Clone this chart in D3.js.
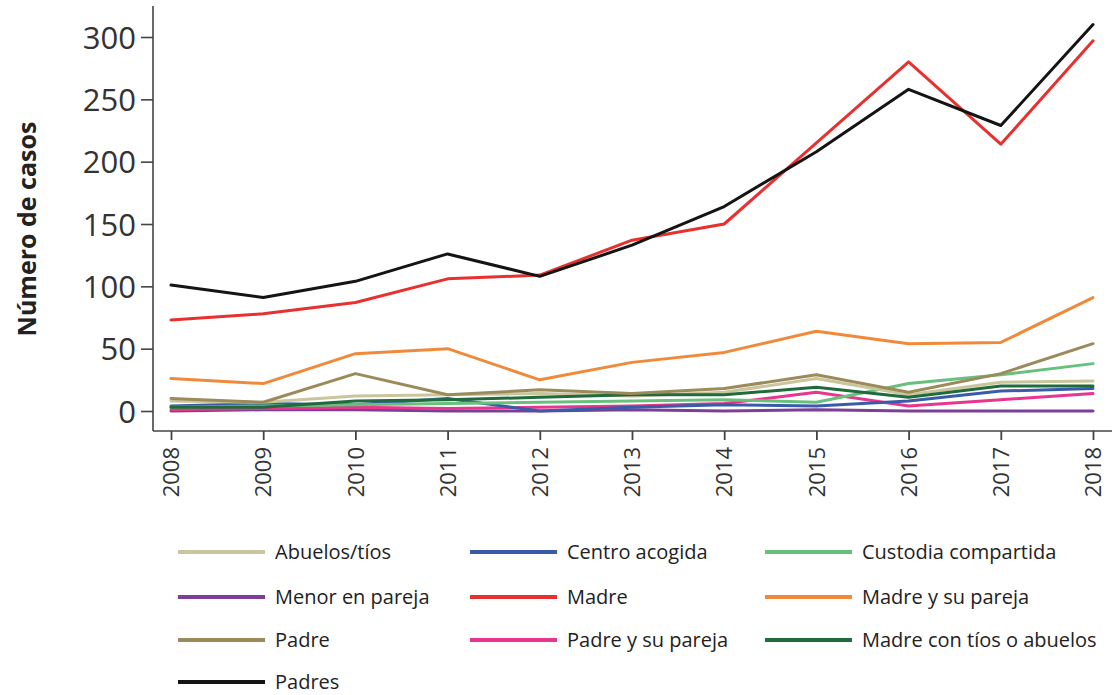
<!DOCTYPE html>
<html>
<head>
<meta charset="utf-8">
<script src="https://cdn.jsdelivr.net/npm/d3@7"></script>
<style>
  body { margin: 0; background: #fff; }
  svg text { font-family: "Open Sans", "DejaVu Sans", sans-serif; fill: #222; }
</style>
</head>
<body>
<div id="chart"></div>
<script>
// data
var years = [2008, 2009, 2010, 2011, 2012, 2013, 2014, 2015, 2016, 2017, 2018];
var yTicks = [0, 50, 100, 150, 200, 250, 300];

var abuelosTios     = [8, 7, 12, 13, 14, 12, 15, 26, 13, 23, 24];
var centroAcogida   = [4, 6, 5, 10, 0, 3, 5, 4, 8, 16, 18];
var custodia        = [3, 4, 5, 6, 7, 8, 9, 7, 22, 29, 38];
var menorPareja     = [0, 1, 1, 0, 0, 1, 0, 1, 0, 0, 0];
var madre           = [73, 78, 87, 106, 109, 137, 150, 215, 280, 214, 297];
var madrePareja     = [26, 22, 46, 50, 25, 39, 47, 64, 54, 55, 91];
var padre           = [10, 7, 30, 13, 17, 14, 18, 29, 15, 30, 54];
var padrePareja     = [1, 2, 3, 2, 3, 4, 6, 15, 4, 9, 14];
var madreTiosAbuelos = [3, 3, 8, 9, 11, 13, 13, 19, 11, 20, 20];
var padres          = [101, 91, 104, 126, 108, 133, 164, 208, 258, 229, 310];

var series = [
  {name: "Abuelos/tíos", values: abuelosTios, color: "#c9c59c"},
  {name: "Centro acogida", values: centroAcogida, color: "#3a5ca8"},
  {name: "Custodia compartida", values: custodia, color: "#68c07c"},
  {name: "Menor en pareja", values: menorPareja, color: "#7b3f98"},
  {name: "Madre", values: madre, color: "#e8302e"},
  {name: "Madre y su pareja", values: madrePareja, color: "#f08a3a"},
  {name: "Padre", values: padre, color: "#9b8b5b"},
  {name: "Padre y su pareja", values: padrePareja, color: "#e8358d"},
  {name: "Madre con tíos o abuelos", values: madreTiosAbuelos, color: "#1f6b3c"},
  {name: "Padres", values: padres, color: "#141414"}
];

// drawing order (bottom to top)
var drawOrder = ["Menor en pareja", "Padre y su pareja", "Centro acogida", "Custodia compartida",
  "Abuelos/tíos", "Madre con tíos o abuelos", "Padre", "Madre y su pareja", "Madre", "Padres"];

var width = 1120, height = 695;

var svg = d3.select("#chart").append("svg")
  .attr("width", width)
  .attr("height", height);

var x = d3.scaleLinear().domain([2008, 2018]).range([171, 1093]);
var y = d3.scaleLinear().domain([0, 300]).range([411, 37]);

var axisLeftX = 153, axisBottomY = 431;

// y axis
var yAxis = svg.append("g")
  .attr("transform", "translate(" + axisLeftX + ",0)")
  .call(d3.axisLeft(y).tickValues(yTicks).tickSize(12).tickPadding(5));
yAxis.select(".domain").attr("d", "M0,6V" + axisBottomY);
yAxis.selectAll("line").attr("stroke", "#444").attr("stroke-width", 1.6);
yAxis.select(".domain").attr("stroke", "#444").attr("stroke-width", 1.6);
yAxis.selectAll("text")
  .style("font-size", "31px")
  .style("fill", "#333")
  .attr("dy", "0.36em");

// x axis
var xAxis = svg.append("g")
  .attr("transform", "translate(0," + axisBottomY + ")")
  .call(d3.axisBottom(x).tickValues(years).tickFormat(d3.format("d")).tickSize(9));
xAxis.select(".domain").attr("d", "M" + axisLeftX + ",0H1112");
xAxis.selectAll("line").attr("stroke", "#444").attr("stroke-width", 1.8);
xAxis.select(".domain").attr("stroke", "#444").attr("stroke-width", 1.6);
xAxis.selectAll("text")
  .style("font-size", "22px")
  .style("fill", "#333")
  .attr("transform", "rotate(-90)")
  .attr("text-anchor", "end")
  .attr("x", -16)
  .attr("y", 0)
  .attr("dy", "0.35em");

// y title
svg.append("text")
  .attr("transform", "translate(36,229) rotate(-90)")
  .attr("text-anchor", "middle")
  .style("font-size", "25px")
  .style("font-weight", "bold")
  .style("fill", "#222")
  .text("Número de casos");

// lines
var line = d3.line()
  .x(function(d, i) { return x(years[i]); })
  .y(function(d) { return y(d); });

drawOrder.forEach(function(name) {
  var s = series.find(function(d) { return d.name == name; });
  svg.append("path")
    .datum(s.values)
    .attr("fill", "none")
    .attr("stroke", s.color)
    .attr("stroke-width", 3)
    .attr("stroke-linejoin", "round")
    .attr("stroke-linecap", "round")
    .attr("d", line);
});

// legend
var colX = [178, 470, 765];
var rowY = [552, 597, 640, 682];

var legend = svg.selectAll(".legend")
  .data(series)
  .enter()
  .append("g")
  .attr("class", "legend")
  .attr("transform", function(d, i) {
    return "translate(" + colX[i % 3] + "," + rowY[Math.floor(i / 3)] + ")";
  });

legend.append("line")
  .attr("x1", 0).attr("x2", 87)
  .attr("y1", 0).attr("y2", 0)
  .attr("stroke", function(d) { return d.color; })
  .attr("stroke-width", 4);

legend.append("text")
  .attr("x", 97)
  .attr("y", 0)
  .attr("dy", "0.35em")
  .style("font-size", "20px")
  .style("fill", "#222")
  .text(function(d) { return d.name; });
</script>
</body>
</html>
